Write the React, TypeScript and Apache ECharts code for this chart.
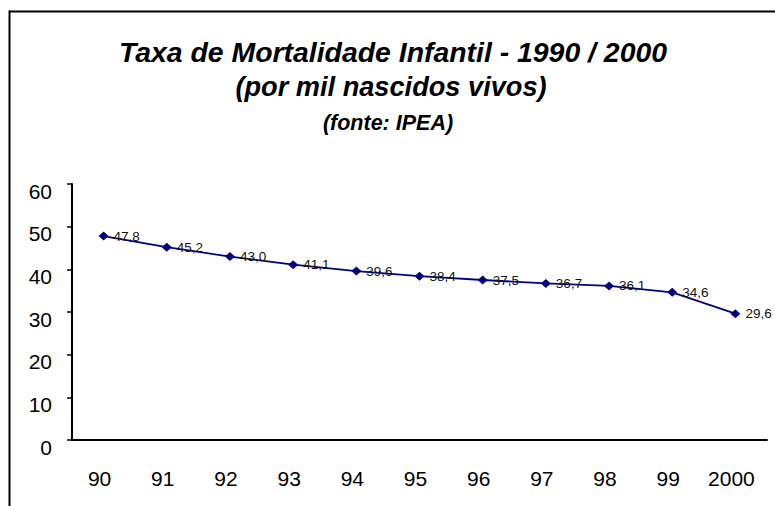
import React, { useEffect, useRef } from "react";
import * as echarts from "echarts";

const categories: string[] = ["90", "91", "92", "93", "94", "95", "96", "97", "98", "99", "2000"];
const mortalityValues: number[] = [47.8, 45.2, 43.0, 41.1, 39.6, 38.4, 37.5, 36.7, 36.1, 34.6, 29.6];
const yTicks = { min: 0, max: 60, interval: 10 };
const titleLines: string[] = [
  "Taxa de Mortalidade Infantil - 1990 / 2000",
  "(por mil nascidos vivos)",
  "(fonte: IPEA)",
];

const FONT = '"Liberation Sans", Arial, sans-serif';

export default function App() {
  const ref = useRef<HTMLDivElement>(null);
  useEffect(() => {
    if (!ref.current) return;
    const chart = echarts.init(ref.current, undefined, { renderer: "svg" });
    chart.setOption({
      animation: false,
      backgroundColor: "#ffffff",
      title: [
        {
          text: titleLines[0],
          left: 393,
          top: 38,
          textAlign: "center",
          padding: 0,
          textStyle: { fontFamily: FONT, fontSize: 28.4, fontWeight: "bold", fontStyle: "italic", color: "#000" },
        },
        {
          text: titleLines[1],
          left: 391,
          top: 73,
          textAlign: "center",
          padding: 0,
          textStyle: { fontFamily: FONT, fontSize: 27.2, fontWeight: "bold", fontStyle: "italic", color: "#000" },
        },
        {
          text: titleLines[2],
          left: 388,
          top: 112,
          textAlign: "center",
          padding: 0,
          textStyle: { fontFamily: FONT, fontSize: 21.5, fontWeight: "bold", fontStyle: "italic", color: "#000" },
        },
      ],
      graphic: [
        { type: "line", shape: { x1: 9, y1: 11.5, x2: 775, y2: 11.5 }, style: { stroke: "#000", lineWidth: 2 } },
        { type: "line", shape: { x1: 9.5, y1: 10.5, x2: 9.5, y2: 506 }, style: { stroke: "#000", lineWidth: 2 } },
      ],
      grid: {
        left: 72,
        right: 8,
        top: 184,
        bottom: 66,
        containLabel: false,
        outerBoundsMode: "none",
      },
      xAxis: {
        type: "category",
        data: categories,
        boundaryGap: true,
        axisLine: { show: true, lineStyle: { color: "#000", width: 2 } },
        axisTick: { show: false },
        axisLabel: {
          fontFamily: FONT,
          fontSize: 21,
          color: "#000",
          margin: 28,
          padding: [0, 8, 0, 0],
        },
        splitLine: { show: false },
      },
      yAxis: {
        type: "value",
        min: yTicks.min,
        max: yTicks.max,
        interval: yTicks.interval,
        axisLine: { show: true, lineStyle: { color: "#000", width: 2 } },
        axisTick: { show: true, inside: false, length: 5, lineStyle: { color: "#000", width: 1.5 } },
        axisLabel: {
          fontFamily: FONT,
          fontSize: 21,
          color: "#000",
          margin: 20,
          verticalAlign: "top",
          lineHeight: 14,
        },
        splitLine: { show: false },
      },
      series: [
        {
          type: "line",
          data: mortalityValues,
          symbol: "diamond",
          symbolSize: [10, 9],
          showAllSymbol: true,
          lineStyle: { color: "#000080", width: 1.8 },
          itemStyle: { color: "#000080" },
          label: {
            show: true,
            position: "right",
            distance: 5,
            fontFamily: FONT,
            fontSize: 13.5,
            color: "#111",
            formatter: (p: any) => Number(p.value).toFixed(1).replace(".", ","),
          },
        },
      ],
    });
    return () => chart.dispose();
  }, []);
  return (
    <div
      ref={ref}
      style={{ position: "fixed", left: 0, top: 0, width: 775, height: 506, background: "#fff" }}
    />
  );
}
